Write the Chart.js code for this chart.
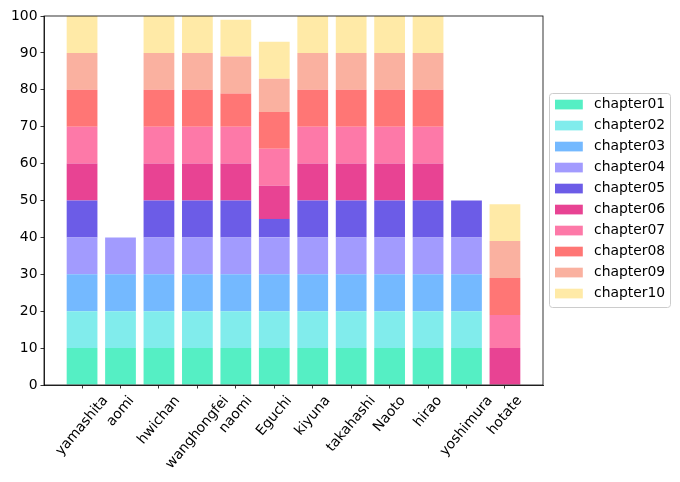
<!DOCTYPE html>
<html>
<head>
<meta charset="utf-8">
<script src="https://cdn.jsdelivr.net/npm/chart.js@4"></script>
<style>
  html, body { margin: 0; padding: 0; background: #fff; }
  canvas { display: block; }
</style>
</head>
<body>
<canvas id="grafico" width="680" height="482" style="width:680px;height:482px"></canvas>
<script>
// --- datos ---
const personas = ['yamashita', 'aomi', 'hwichan', 'wanghongfei', 'naomi', 'Eguchi',
    'kiyuna', 'takahashi', 'Naoto', 'hirao', 'yoshimura', 'hotate'];

const chapter01 = [10, 10, 10, 10, 10, 10, 10, 10, 10, 10, 10, 0];
const chapter02 = [10, 10, 10, 10, 10, 10, 10, 10, 10, 10, 10, 0];
const chapter03 = [10, 10, 10, 10, 10, 10, 10, 10, 10, 10, 10, 0];
const chapter04 = [10, 10, 10, 10, 10, 10, 10, 10, 10, 10, 10, 0];
const chapter05 = [10, 0, 10, 10, 10, 5, 10, 10, 10, 10, 10, 0];
const chapter06 = [10, 0, 10, 10, 10, 9, 10, 10, 10, 10, 0, 10];
const chapter07 = [10, 0, 10, 10, 10, 10, 10, 10, 10, 10, 0, 9];
const chapter08 = [10, 0, 10, 10, 9, 10, 10, 10, 10, 10, 0, 10];
const chapter09 = [10, 0, 10, 10, 10, 9, 10, 10, 10, 10, 0, 10];
const chapter10 = [10, 0, 10, 10, 10, 10, 10, 10, 10, 10, 0, 10];

const yTicks = [0, 10, 20, 30, 40, 50, 60, 70, 80, 90, 100];

const capitulos = [
    ['chapter01', chapter01, '#55efc4'],
    ['chapter02', chapter02, '#81ecec'],
    ['chapter03', chapter03, '#74b9ff'],
    ['chapter04', chapter04, '#a29bfe'],
    ['chapter05', chapter05, '#6c5ce7'],
    ['chapter06', chapter06, '#e84393'],
    ['chapter07', chapter07, '#fd79a8'],
    ['chapter08', chapter08, '#ff7675'],
    ['chapter09', chapter09, '#fab1a0'],
    ['chapter10', chapter10, '#ffeaa7']
];

const FUENTE = '13.9px "DejaVu Sans", sans-serif';

// marco de los cuatro lados + etiquetas giradas + leyenda
const extras = {
    id: 'extras',
    afterDraw(chart) {
        const ctx = chart.ctx;
        const a = chart.chartArea;
        const xs = chart.scales.x;

        ctx.save();
        ctx.strokeStyle = '#000';
        ctx.lineWidth = 0.8;
        ctx.strokeRect(a.left, a.top, a.right - a.left, a.bottom - a.top);

        // etiquetas del eje x, rotadas 50 grados y centradas en el tick
        ctx.font = FUENTE;
        ctx.fillStyle = '#000';
        ctx.textAlign = 'center';
        ctx.textBaseline = 'middle';
        const ang = 50 * Math.PI / 180;
        const h = 16;
        personas.forEach((nombre, i) => {
            const px = xs.getPixelForValue(i);
            const w = ctx.measureText(nombre).width;
            const alto = w * Math.sin(ang) + h * Math.cos(ang);
            const cy = a.bottom + 8 + alto / 2;
            ctx.save();
            ctx.translate(px, cy);
            ctx.rotate(-ang);
            ctx.fillText(nombre, 0, 0);
            ctx.restore();
        });

        // leyenda
        const bx = 549, by = 93, bw = 121, bh = 214;
        ctx.beginPath();
        ctx.roundRect(bx + 0.5, by + 0.5, bw, bh, 3);
        ctx.fillStyle = 'rgba(255,255,255,0.8)';
        ctx.fill();
        ctx.strokeStyle = '#cccccc';
        ctx.lineWidth = 1;
        ctx.stroke();

        ctx.textAlign = 'left';
        capitulos.forEach(([nombre, , color], i) => {
            const cy = 104.5 + i * 21;
            ctx.fillStyle = color;
            ctx.fillRect(555, cy - 4.8, 27.8, 9.7);
            ctx.fillStyle = '#000';
            ctx.fillText(nombre, 594, cy);
        });
        ctx.restore();
    }
};

new Chart(document.getElementById('grafico'), {
    type: 'bar',
    data: {
        datasets: capitulos.map(([nombre, valores, color]) => ({
            label: nombre,
            // los ceros no se dibujan (evita la línea fina de una barra vacía)
            data: valores.map((v, i) => ({ x: i, y: v === 0 ? null : v })),
            backgroundColor: color,
            borderWidth: 0,
            barPercentage: 0.8,
            categoryPercentage: 1.0
        }))
    },
    options: {
        responsive: false,
        animation: false,
        devicePixelRatio: 1,
        layout: { padding: { top: 16, right: 137, left: 0, bottom: 0 } },
        plugins: { legend: { display: false }, tooltip: { enabled: false } },
        scales: {
            x: {
                type: 'linear',
                stacked: true,
                offset: false,
                min: -0.99,
                max: 11.99,
                afterBuildTicks: (s) => { s.ticks = personas.map((_, i) => ({ value: i })); },
                afterFit: (s) => { s.height = 97; },
                ticks: { callback: () => '', autoSkip: false, maxRotation: 0 },
                grid: { offset: false, drawOnChartArea: false, drawTicks: true, tickLength: 3.5, tickColor: '#000', tickWidth: 0.8 },
                border: { color: '#000', width: 0.8 }
            },
            y: {
                stacked: true,
                min: 0,
                max: 100,
                afterBuildTicks: (s) => { s.ticks = yTicks.map(v => ({ value: v })); },
                afterFit: (s) => { s.width = 44; },
                ticks: { color: '#000', font: { family: '"DejaVu Sans", sans-serif', size: 13.9 }, padding: 3 },
                grid: { drawOnChartArea: false, drawTicks: true, tickLength: 3.5, tickColor: '#000', tickWidth: 0.8 },
                border: { color: '#000', width: 0.8 }
            }
        }
    },
    plugins: [extras]
});
</script>
</body>
</html>
